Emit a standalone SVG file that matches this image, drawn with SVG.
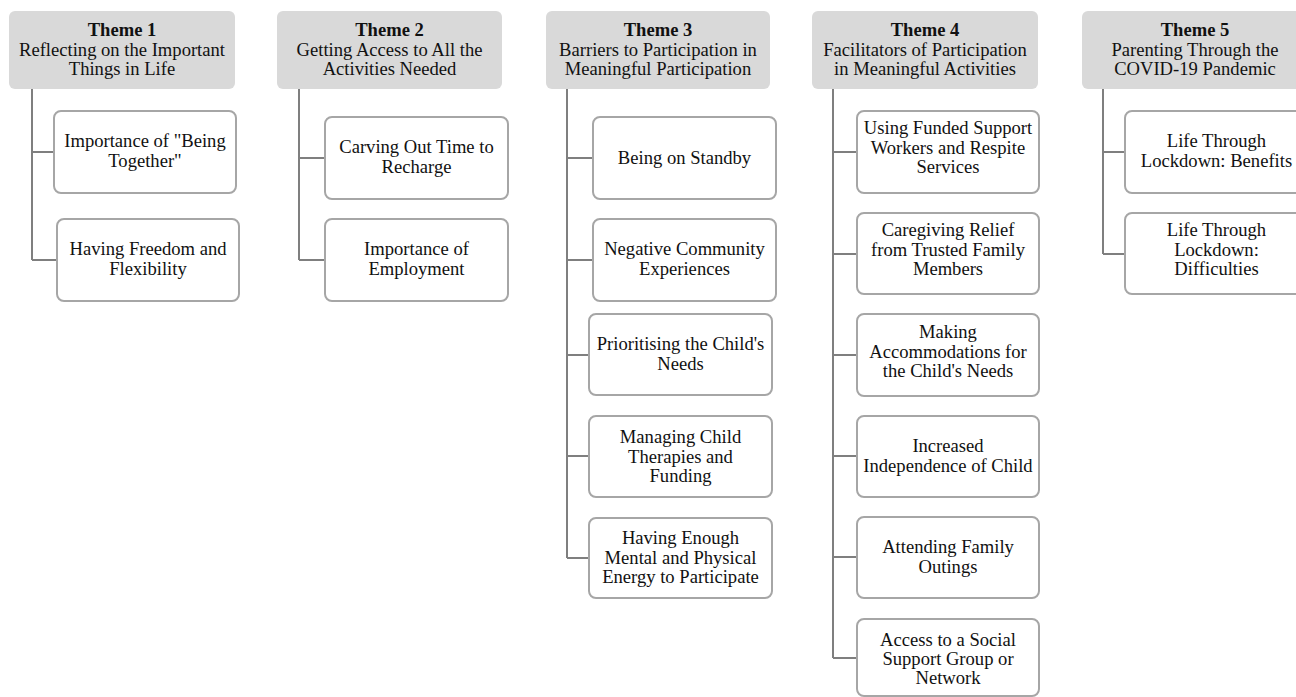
<svg xmlns="http://www.w3.org/2000/svg" width="1296" height="697" viewBox="0 0 1296 697">
<style>
.hdr{fill:#d9d9d9;stroke:none}
.box{fill:#fff;stroke:#a6a6a6;stroke-width:2}
.t{font-family:"Liberation Serif","Times New Roman",serif;font-size:18.6px;fill:#111;text-anchor:middle}
.b{font-weight:bold}
.c{stroke:#7f7f7f;stroke-width:2;fill:none}
</style>
<rect width="1296" height="697" fill="#fff"/>
<g id="connectors">
<path class="c" d="M32 89V260M32 152H54M32 260H57"/>
<path class="c" d="M299 89V260M299 158H325M299 260H325"/>
<path class="c" d="M567 89V558M567 158H593M567 260H593M567 355H589M567 456H589M567 558H589"/>
<path class="c" d="M833 89V658M833 152H857M833 254H857M833 355H857M833 456H857M833 557H857M833 658H857"/>
<path class="c" d="M1103 89V254M1103 152H1125M1103 254H1125"/>
</g>
<g id="theme1">
<rect class="hdr" x="9" y="11" width="226" height="78" rx="6"/>
<text class="t" x="122" y="36"><tspan class="b">Theme 1</tspan><tspan x="122" dy="19.5">Reflecting on the Important</tspan><tspan x="122" dy="19.5">Things in Life</tspan></text>
</g>
<g id="t1c1"><rect class="box" x="54" y="111" width="182" height="82" rx="7"/>
<text class="t" x="145" y="147">Importance of "Being<tspan x="145" dy="19.5">Together"</tspan></text></g>
<g id="t1c2"><rect class="box" x="57" y="219" width="182" height="82" rx="7"/>
<text class="t" x="148" y="255">Having Freedom and<tspan x="148" dy="19.5">Flexibility</tspan></text></g>
<g id="theme2">
<rect class="hdr" x="277" y="11" width="225" height="78" rx="6"/>
<text class="t" x="389.5" y="36"><tspan class="b">Theme 2</tspan><tspan x="389.5" dy="19.5">Getting Access to All the</tspan><tspan x="389.5" dy="19.5">Activities Needed</tspan></text>
</g>
<g id="t2c1"><rect class="box" x="325" y="117" width="183" height="82" rx="7"/>
<text class="t" x="416.5" y="153">Carving Out Time to<tspan x="416.5" dy="19.5">Recharge</tspan></text></g>
<g id="t2c2"><rect class="box" x="325" y="219" width="183" height="82" rx="7"/>
<text class="t" x="416.5" y="255">Importance of<tspan x="416.5" dy="19.5">Employment</tspan></text></g>
<g id="theme3">
<rect class="hdr" x="546" y="11" width="224" height="78" rx="6"/>
<text class="t" x="658" y="36"><tspan class="b">Theme 3</tspan><tspan x="658" dy="19.5">Barriers to Participation in</tspan><tspan x="658" dy="19.5">Meaningful Participation</tspan></text>
</g>
<g id="t3c1"><rect class="box" x="593" y="117" width="183" height="82" rx="7"/>
<text class="t" x="684.5" y="164">Being on Standby</text></g>
<g id="t3c2"><rect class="box" x="593" y="219" width="183" height="82" rx="7"/>
<text class="t" x="684.5" y="255">Negative Community<tspan x="684.5" dy="19.5">Experiences</tspan></text></g>
<g id="t3c3"><rect class="box" x="589" y="314" width="183" height="81" rx="7"/>
<text class="t" x="680.5" y="350">Prioritising the Child's<tspan x="680.5" dy="19.5">Needs</tspan></text></g>
<g id="t3c4"><rect class="box" x="589" y="416" width="183" height="81" rx="7"/>
<text class="t" x="680.5" y="443">Managing Child<tspan x="680.5" dy="19.5">Therapies and</tspan><tspan x="680.5" dy="19.5">Funding</tspan></text></g>
<g id="t3c5"><rect class="box" x="589" y="518" width="183" height="80" rx="7"/>
<text class="t" x="680.5" y="544">Having Enough<tspan x="680.5" dy="19.5">Mental and Physical</tspan><tspan x="680.5" dy="19.5">Energy to Participate</tspan></text></g>
<g id="theme4">
<rect class="hdr" x="812" y="11" width="226" height="78" rx="6"/>
<text class="t" x="925" y="36"><tspan class="b">Theme 4</tspan><tspan x="925" dy="19.5">Facilitators of Participation</tspan><tspan x="925" dy="19.5">in Meaningful Activities</tspan></text>
</g>
<g id="t4c1"><rect class="box" x="857" y="111" width="182" height="82" rx="7"/>
<text class="t" x="948" y="134">Using Funded Support<tspan x="948" dy="19.5">Workers and Respite</tspan><tspan x="948" dy="19.5">Services</tspan></text></g>
<g id="t4c2"><rect class="box" x="857" y="213" width="182" height="81" rx="7"/>
<text class="t" x="948" y="236">Caregiving Relief<tspan x="948" dy="19.5">from Trusted Family</tspan><tspan x="948" dy="19.5">Members</tspan></text></g>
<g id="t4c3"><rect class="box" x="857" y="314" width="182" height="82" rx="7"/>
<text class="t" x="948" y="338">Making<tspan x="948" dy="19.5">Accommodations for</tspan><tspan x="948" dy="19.5">the Child's Needs</tspan></text></g>
<g id="t4c4"><rect class="box" x="857" y="416" width="182" height="81" rx="7"/>
<text class="t" x="948" y="452">Increased<tspan x="948" dy="19.5">Independence of Child</tspan></text></g>
<g id="t4c5"><rect class="box" x="857" y="517" width="182" height="81" rx="7"/>
<text class="t" x="948" y="553">Attending Family<tspan x="948" dy="19.5">Outings</tspan></text></g>
<g id="t4c6"><rect class="box" x="857" y="619" width="182" height="77" rx="7"/>
<text class="t" x="948" y="646">Access to a Social<tspan x="948" dy="19">Support Group or</tspan><tspan x="948" dy="19">Network</tspan></text></g>
<g id="theme5">
<rect class="hdr" x="1082" y="11" width="226" height="78" rx="6"/>
<text class="t" x="1195" y="36"><tspan class="b">Theme 5</tspan><tspan x="1195" dy="19.5">Parenting Through the</tspan><tspan x="1195" dy="19.5">COVID-19 Pandemic</tspan></text>
</g>
<g id="t5c1"><rect class="box" x="1125" y="111" width="183" height="82" rx="7"/>
<text class="t" x="1216.5" y="147">Life Through<tspan x="1216.5" dy="19.5">Lockdown: Benefits</tspan></text></g>
<g id="t5c2"><rect class="box" x="1125" y="213" width="183" height="81" rx="7"/>
<text class="t" x="1216.5" y="236">Life Through<tspan x="1216.5" dy="19.5">Lockdown:</tspan><tspan x="1216.5" dy="19.5">Difficulties</tspan></text></g>
</svg>
